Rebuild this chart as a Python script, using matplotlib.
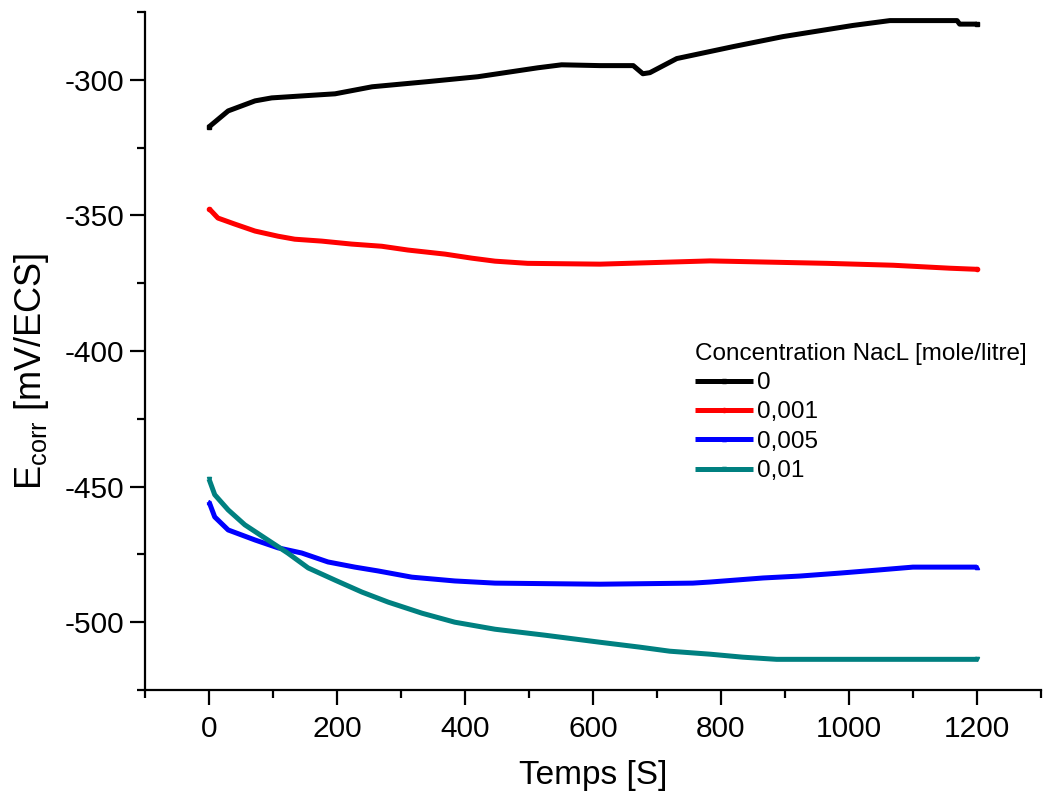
import matplotlib
matplotlib.use("Agg")
import matplotlib.pyplot as plt
from matplotlib.ticker import MultipleLocator

plt.rcParams['font.family'] = ['Liberation Sans', 'DejaVu Sans']
plt.rcParams['mathtext.default'] = 'regular'
plt.rcParams['axes.unicode_minus'] = False

# --- data ---
t0 = [0, 30, 72, 98, 150, 197, 255, 342, 420, 514, 551, 611, 663, 678, 689, 731, 819, 897, 1006, 1064, 1169, 1173, 1200]
e0 = [-317.4, -311.5, -307.8, -306.7, -305.9, -305.2, -302.6, -300.7, -298.9, -295.6, -294.5, -294.8, -294.8, -297.8, -297.4, -292.2, -287.8, -284.1, -280.0, -278.2, -278.2, -279.5, -279.5]

t1 = [0, 14, 40, 72, 108, 134, 176, 223, 270, 311, 369, 411, 447, 498, 611, 783, 966, 1069, 1158, 1200]
e1 = [-347.5, -351.0, -353.2, -355.8, -357.7, -358.8, -359.5, -360.6, -361.4, -362.8, -364.3, -365.8, -366.9, -367.7, -368.0, -366.8, -367.7, -368.4, -369.5, -369.9]

t2 = [0, 9, 30, 72, 108, 145, 186, 228, 264, 317, 384, 447, 611, 756, 783, 866, 923, 986, 1044, 1100, 1200]
e2 = [-455.6, -461.2, -466.0, -469.7, -472.6, -474.5, -477.8, -479.7, -481.1, -483.4, -484.8, -485.6, -486.0, -485.6, -485.2, -483.7, -483.0, -481.9, -480.8, -479.7, -479.7]

t3 = [0, 9, 30, 56, 92, 123, 155, 197, 239, 280, 333, 384, 447, 525, 611, 673, 720, 783, 834, 887, 1200]
e3 = [-447.2, -453.0, -458.6, -464.1, -469.7, -474.5, -480.0, -484.5, -488.9, -492.6, -496.7, -500.0, -502.6, -504.8, -507.4, -509.2, -510.7, -511.8, -512.9, -513.7, -513.7]

labels = ['0', '0,001', '0,005', '0,01']
colors = ['#000000', '#ff0000', '#0000ff', '#008080']
markers = ['s', 'o', '^', 'v']
legend_title = 'Concentration NacL [mole/litre]'

fig = plt.figure(figsize=(10.43, 7.94), dpi=100)
ax = fig.add_axes([0.139, 0.131, 0.859, 0.854])

for t, e, lab, c, m in zip([t0, t1, t2, t3], [e0, e1, e2, e3], labels, colors, markers):
    ax.plot(t, e, color=c, lw=3.6, marker=m, markersize=3, markevery=[0, len(t) - 1],
            label=lab, solid_capstyle='butt')

ax.set_xlim(-100, 1300)
ax.set_ylim(-525, -275)
ax.xaxis.set_major_locator(MultipleLocator(200))
ax.xaxis.set_minor_locator(MultipleLocator(100))
ax.yaxis.set_major_locator(MultipleLocator(50))
ax.yaxis.set_minor_locator(MultipleLocator(25))

for s in ['top', 'right']:
    ax.spines[s].set_visible(False)
for s in ['left', 'bottom']:
    ax.spines[s].set_linewidth(1.6)

ax.tick_params(which='major', direction='out', length=11, width=1.6, labelsize=21.5)
ax.tick_params(which='minor', direction='out', length=6, width=1.6)
ax.tick_params(axis='x', which='major', pad=7)
ax.tick_params(axis='y', which='major', pad=4)

ax.set_xlabel('Temps [S]', fontsize=24, labelpad=12)
ax.set_ylabel(r'E$_{corr}$ [mV/ECS]', fontsize=26)
ax.yaxis.set_label_coords(-0.105, 0.47)

leg = ax.legend(title=legend_title, loc='upper left', bbox_to_anchor=(0.6136, 0.512),
                frameon=False, fontsize=17.5, title_fontsize=17.5, handlelength=2.4,
                handletextpad=0.15, labelspacing=0.3, borderaxespad=0, borderpad=0,
                numpoints=1, markerscale=1.0)
leg._legend_box.align = 'left'

fig.savefig('out.png', dpi=100)
